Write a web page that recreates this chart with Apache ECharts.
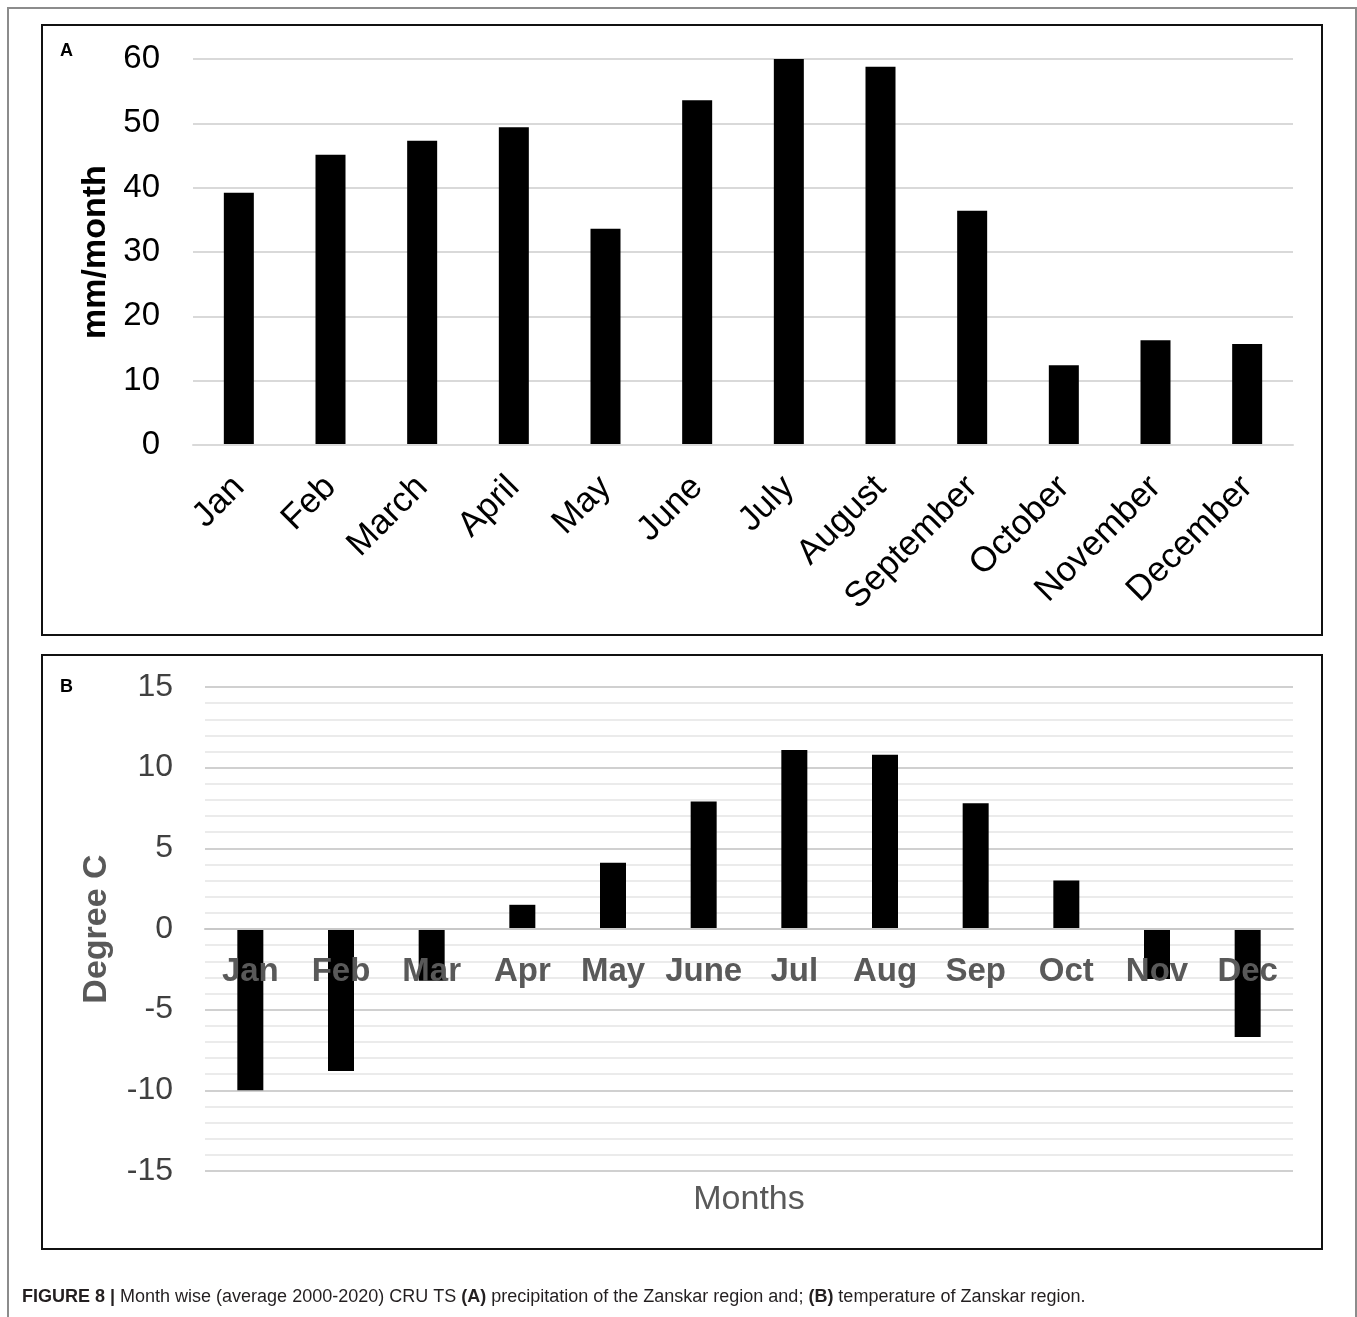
<!DOCTYPE html>
<html>
<head>
<meta charset="utf-8">
<script src="https://cdn.jsdelivr.net/npm/echarts@6/dist/echarts.min.js"></script>
<style>
  html, body { margin: 0; padding: 0; background: #fff; }
  #chart { width: 1357px; height: 1317px; }
</style>
</head>
<body>
<div id="chart"></div>
<script>
// Monthly precipitation (mm/month), average 2000-2020
const precipMonths = ['Jan', 'Feb', 'March', 'April', 'May', 'June', 'July', 'August', 'September', 'October', 'November', 'December'];
const precipValues = [39.2, 45.1, 47.3, 49.4, 33.6, 53.6, 60.0, 58.8, 36.4, 12.4, 16.3, 15.7];

// Monthly mean temperature (degree C)
const tempMonths = ['Jan', 'Feb', 'Mar', 'Apr', 'May', 'June', 'Jul', 'Aug', 'Sep', 'Oct', 'Nov', 'Dec'];
const tempValues = [-10.0, -8.8, -3.2, 1.5, 4.1, 7.9, 11.1, 10.8, 7.8, 3.0, -3.1, -6.7];

const FONT = "'Liberation Sans', Arial, Helvetica, sans-serif";
const chart = echarts.init(document.getElementById('chart'), null, { renderer: 'canvas' });

// temperature panel: value range and plot height, used to lift the month axis onto the 0 line
const TEMP_MIN = -15, TEMP_MAX = 15, TEMP_PLOT_H = 484;
const zeroLift = -TEMP_PLOT_H * (0 - TEMP_MIN) / (TEMP_MAX - TEMP_MIN);

chart.setOption({
  backgroundColor: '#ffffff',
  animation: false,
  textStyle: { fontFamily: FONT },
  grid: [
    { left: 193, right: 64, top: 59, height: 386, containLabel: false, outerBoundsMode: 'none' },
    { left: 205, right: 64, top: 687, height: TEMP_PLOT_H, containLabel: false, outerBoundsMode: 'none' }
  ],
  xAxis: [
    {
      type: 'category', gridIndex: 0, data: precipMonths, z: 10,
      axisLine: { show: true, lineStyle: { color: '#d9d9d9', width: 2 } },
      axisTick: { show: false },
      axisLabel: { rotate: 45, margin: 37, fontSize: 35, color: '#000', fontFamily: FONT, interval: 0 }
    },
    {
      type: 'category', gridIndex: 1, data: tempMonths, z: 10,
      position: 'bottom', offset: zeroLift,
      axisLine: { show: true, onZero: false, lineStyle: { color: '#c8c8c8', width: 2 } },
      axisTick: { show: false },
      axisLabel: { margin: 26, fontSize: 33, fontWeight: 'bold', color: '#595959', fontFamily: FONT, interval: 0 },
      name: 'Months', nameLocation: 'middle', nameGap: 254,
      nameTextStyle: { fontSize: 34, color: '#595959', fontFamily: FONT }
    }
  ],
  yAxis: [
    {
      type: 'value', gridIndex: 0, min: 0, max: 60, interval: 10,
      axisLine: { show: false }, axisTick: { show: false },
      axisLabel: { fontSize: 33, color: '#000', margin: 33, fontFamily: FONT },
      splitLine: { lineStyle: { color: '#d9d9d9', width: 2 } },
      name: 'mm/month', nameLocation: 'middle', nameGap: 74,
      nameTextStyle: { fontSize: 34, fontWeight: 'bold', color: '#000', fontFamily: FONT }
    },
    {
      type: 'value', gridIndex: 1, min: TEMP_MIN, max: TEMP_MAX, interval: 5,
      axisLine: { show: false }, axisTick: { show: false },
      axisLabel: { fontSize: 32, color: '#404040', margin: 32, fontFamily: FONT },
      splitLine: { lineStyle: { color: '#d0d0d0', width: 2 } },
      minorTick: { show: false, splitNumber: 5 },
      minorSplitLine: { show: true, lineStyle: { color: '#ebebeb', width: 2 } },
      name: 'Degree C', nameLocation: 'middle', nameGap: 91,
      nameTextStyle: { fontSize: 34, fontWeight: 'bold', color: '#595959', fontFamily: FONT }
    }
  ],
  series: [
    {
      type: 'bar', xAxisIndex: 0, yAxisIndex: 0, data: precipValues,
      barWidth: 30, itemStyle: { color: '#000' }
    },
    {
      type: 'bar', xAxisIndex: 1, yAxisIndex: 1, data: tempValues,
      barWidth: 26, itemStyle: { color: '#000' }
    }
  ],
  graphic: [
    // outer figure border
    { type: 'rect', shape: { x: 8, y: 8, width: 1348, height: 1330 },
      style: { fill: 'none', stroke: '#8c8c8c', lineWidth: 2 }, silent: true, z: -10 },
    // panel frames
    { type: 'rect', shape: { x: 42, y: 25, width: 1280, height: 610 },
      style: { fill: 'none', stroke: '#111', lineWidth: 2 }, silent: true },
    { type: 'rect', shape: { x: 42, y: 655, width: 1280, height: 594 },
      style: { fill: 'none', stroke: '#111', lineWidth: 2 }, silent: true },
    // panel letters
    { type: 'text', left: 60, top: 42,
      style: { text: 'A', font: 'bold 18px ' + FONT, fill: '#000' } },
    { type: 'text', left: 60, top: 678,
      style: { text: 'B', font: 'bold 18px ' + FONT, fill: '#000' } },
    // caption
    { type: 'text', left: 22, top: 1288,
      style: {
        text: '{b|FIGURE 8 |} Month wise (average 2000-2020) CRU TS {b|(A)} precipitation of the Zanskar region and; {b|(B)} temperature of Zanskar region.',
        rich: {
          b: { fontWeight: 'bold', fontSize: 18, fontFamily: FONT, fill: '#231f20' }
        },
        font: '18px ' + FONT, fill: '#231f20'
      } }
  ]
});
</script>
</body>
</html>
